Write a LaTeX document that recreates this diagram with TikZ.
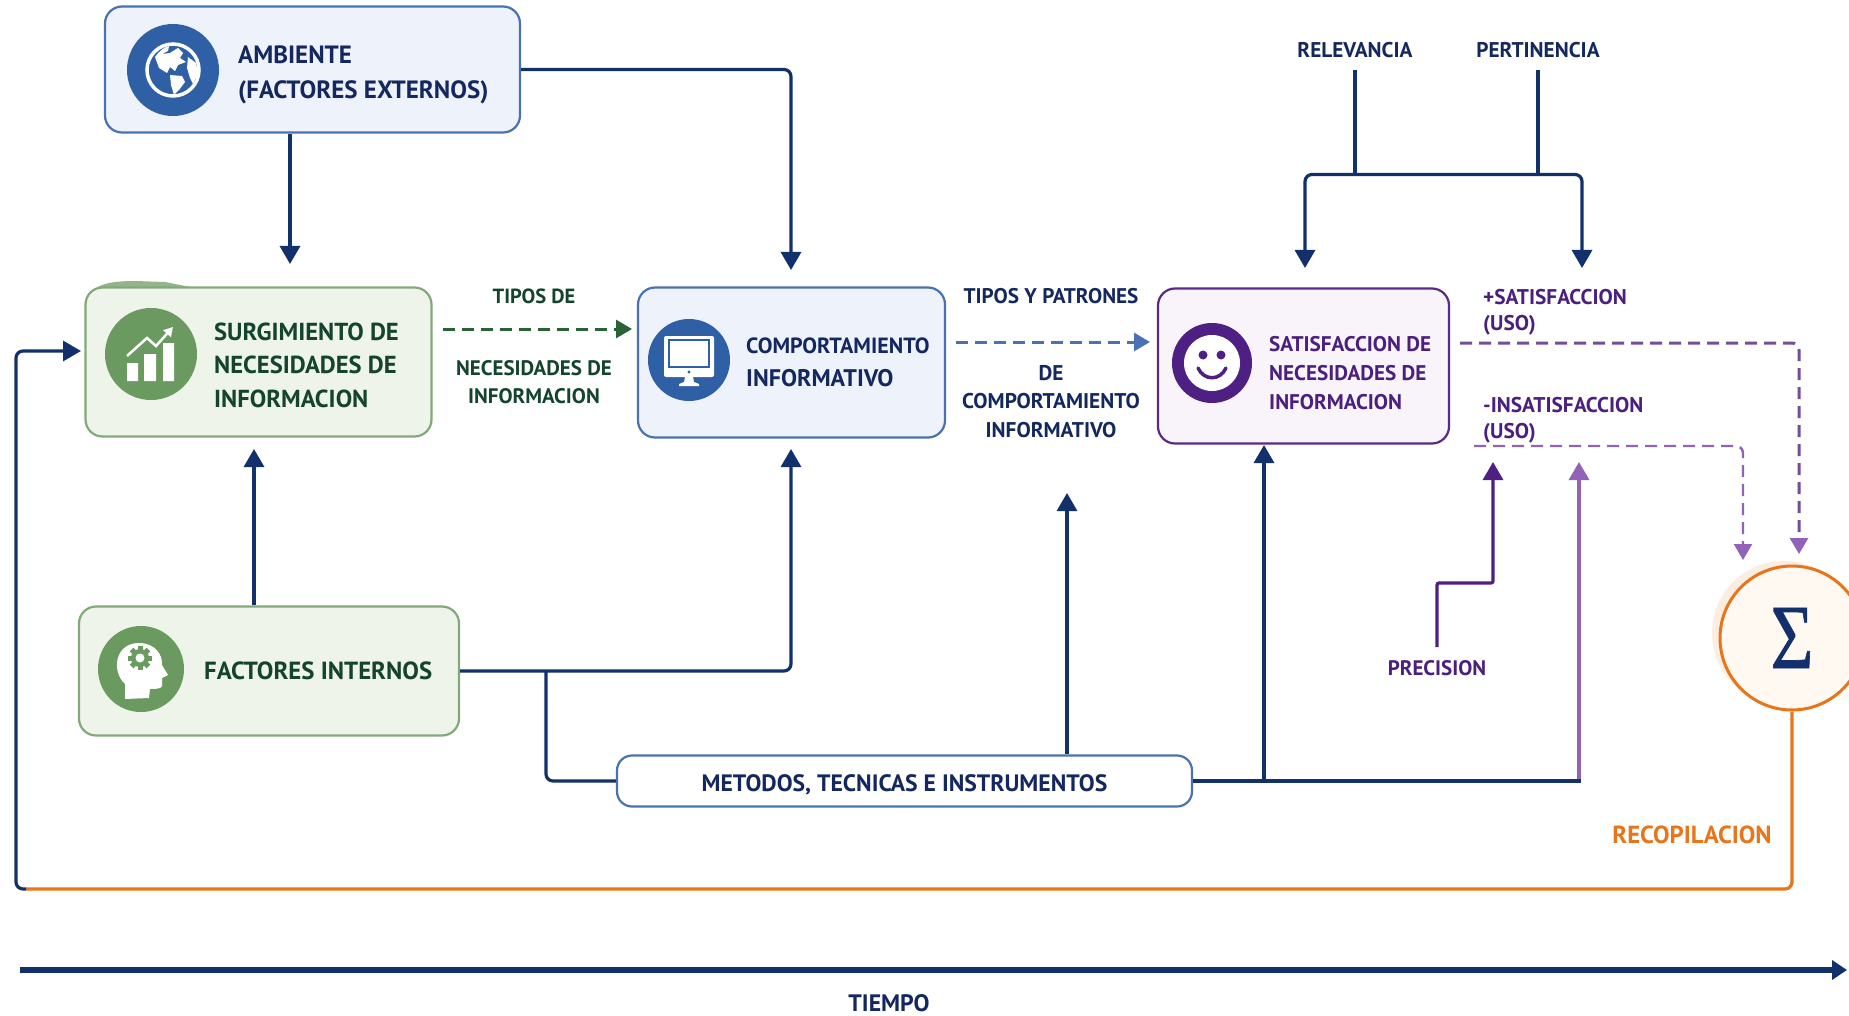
\documentclass[tikz,border=0pt]{standalone}
\usepackage{fontspec}
\setmainfont{PT Sans}
\newfontfamily\sigmafont[FakeBold=0.8]{Liberation Serif}
\usetikzlibrary{arrows.meta,calc}
\definecolor{navy}{HTML}{12306B}
\definecolor{txtnavy}{HTML}{14285F}
\definecolor{bluebd}{HTML}{4A72B0}
\definecolor{bluefl}{HTML}{EEF2FA}
\definecolor{blueic}{HTML}{2F5FA5}
\definecolor{greenbd}{HTML}{83A97A}
\definecolor{greenfl}{HTML}{EFF4EA}
\definecolor{greenic}{HTML}{6A9A5F}
\definecolor{greentx}{HTML}{14432E}
\definecolor{greenda}{HTML}{2A6238}
\definecolor{purpbd}{HTML}{5B2A86}
\definecolor{purpfl}{HTML}{F8F4FA}
\definecolor{purpic}{HTML}{4E2083}
\definecolor{purptx}{HTML}{4B1F7E}
\definecolor{purpli}{HTML}{9162B8}
\definecolor{orangel}{HTML}{E8751A}
\tikzset{
  x=1pt,y=-1pt,
  boxb/.style={draw,line width=2.2pt,rounded corners=17pt,inner sep=0pt},
  bluebox/.style={boxb,draw=bluebd,fill=bluefl},
  greenbox/.style={boxb,draw=greenbd,fill=greenfl},
  purpbox/.style={boxb,draw=purpbd,fill=purpfl},
  lab/.style={font=\bfseries\fontsize{#1}{#1}\selectfont,inner sep=0pt},
  mlab/.style 2 args={font=\bfseries\fontsize{#1}{#2}\selectfont,inner sep=0pt,align=left,anchor=west},
  clab/.style 2 args={font=\bfseries\fontsize{#1}{#2}\selectfont,inner sep=0pt,align=center},
  conn/.style={line width=3.2pt,rounded corners=7pt,-{Triangle[length=18pt,width=20pt]}},
  plain/.style={line width=3.2pt,rounded corners=7pt},
  nav/.style={draw=navy},
  dash1/.style={line width=3pt,dash pattern=on 12pt off 7pt,rounded corners=7pt,-{Triangle[length=16pt,width=18pt]}},
}
\begin{document}
\begin{tikzpicture}
\path[use as bounding box,clip] (0,0) rectangle (1849,1016);
\fill[white] (0,0) rectangle (1849,1016);

% ---- free end points
\coordinate (tSurgTop) at (290,264);
\coordinate (tCompTop) at (791,270);
\coordinate (tSurgBot) at (254,449);
\coordinate (tCompBot) at (791,449);
\coordinate (bendA) at (546,780);
\coordinate (tMid) at (1067,493);
\coordinate (tSatBot) at (1264,445);
\coordinate (tUseLi) at (1579,462);
\coordinate (tPrec) at (1493,462);
\coordinate (relTop) at (1355,70);
\coordinate (perTop) at (1538,70);
\coordinate (tSatL) at (1305,268);
\coordinate (tSatR) at (1582,268);
\coordinate (busY) at (1355,174.5);
\coordinate (dashA) at (1460,343);
\coordinate (dashAe) at (1799,554);
\coordinate (dashB) at (1474,446);
\coordinate (dashBe) at (1743,560);
\coordinate (gs) at (443,329);
\coordinate (ge) at (632,329);
\coordinate (bs) at (956,342);
\coordinate (be) at (1150,342);
\coordinate (fbTurn) at (26,889);
\coordinate (precS) at (1437,647);
\coordinate (precK) at (1437,583);
\coordinate (timeS) at (20,970);
\coordinate (timeE) at (1847,970);

% ---- boxes
\fill[greenic!70!greenfl] (88,300) .. controls (92,284) and (110,281) .. (135,281) -- (165,282) -- (195,288) -- (88,300) -- cycle;
\node[bluebox,minimum width=415pt,minimum height=126pt] (amb) at (312.5,69.5) {};
\node[greenbox,minimum width=346pt,minimum height=149pt] (surg) at (258.5,362) {};
\node[bluebox,minimum width=307pt,minimum height=150pt] (comp) at (791.5,362.5) {};
\node[purpbox,minimum width=291pt,minimum height=155pt] (sat) at (1303.5,366) {};
\node[greenbox,minimum width=380pt,minimum height=129pt] (fint) at (269,671) {};
\node[draw=bluebd,fill=white,line width=2.2pt,rounded corners=15pt,minimum width=575pt,minimum height=51pt,inner sep=0pt] (met) at (904.5,781) {};
\fill[black!12!orange!12!white] (1784,633) circle[radius=72pt];
\node[circle,draw=orangel,fill=orange!5!white,line width=3pt,minimum size=144pt,inner sep=0pt] (sum) at (1792,638) {};

% ---- text in boxes
\node[mlab={25}{34.5},text=txtnavy] (tamb) at (238,75) {AMBIENTE\\(FACTORES EXTERNOS)};
\node[mlab={24.6}{33.5},text=greentx] (tsurg) at (214,365) {SURGIMIENTO DE\\NECESIDADES DE\\INFORMACION};
\node[lab={22},anchor=west,text=txtnavy] (tcompa) at (746,346) {COMPORTAMIENTO};
\node[lab={24},anchor=west,text=txtnavy] (tcompb) at (746,378) {INFORMATIVO};
\node[mlab={21.2}{29},text=purptx] (tsat) at (1269,373) {SATISFACCION DE\\NECESIDADES DE\\INFORMACION};
\node[lab={24.8},anchor=west,text=greentx] (tfint) at (204,671) {FACTORES INTERNOS};
\node[lab={23.7},text=txtnavy] (tmet) at ($(met.center)+(0,4)$) {METODOS, TECNICAS E INSTRUMENTOS};
\node[text=navy,inner sep=0pt] (sig) at (1792,638) {\scalebox{0.8}[1]{\sigmafont\fontsize{92}{92}\selectfont Σ}};

% ---- free labels
\node[clab={20.5}{20.5},text=greentx] (l1) at (534,296) {TIPOS DE};
\node[clab={21}{28.5},text=greentx] (l2) at (534,382) {NECESIDADES DE\\INFORMACION};
\node[clab={21.2}{21.2},text=txtnavy] (l3) at (1051,296) {TIPOS Y PATRONES};
\node[clab={21.3}{28.5},text=txtnavy] (l4) at (1051,401.5) {DE\\COMPORTAMIENTO\\INFORMATIVO};
\node[mlab={21.3}{25.5},text=purptx] (l5) at (1483,312) {+SATISFACCION\\(USO)};
\node[mlab={21.3}{25.5},text=purptx] (l6) at (1483,420) {-INSATISFACCION\\(USO)};
\node[lab={21.3},text=txtnavy] (rel) at (1355,50) {RELEVANCIA};
\node[lab={21.3},text=txtnavy] (per) at (1538,50) {PERTINENCIA};
\node[lab={21},text=purptx] (prec) at (1437,668) {PRECISION};
\node[lab={24.7},text=orangel] (rec) at (1692,835) {RECOPILACION};
\node[lab={23.8},text=txtnavy] (tiem) at (889,1003) {TIEMPO};

% ---- connectors
\draw[conn,nav] (tSurgTop |- amb.south) -- (tSurgTop);
\draw[conn,nav] (amb.east) -| (tCompTop);
\draw[conn,nav] (tSurgBot |- fint.north) -- (tSurgBot);
\draw[conn,nav] (fint.east) -| (tCompBot);
\draw[plain,nav] (bendA |- fint.east) |- (met.west);
\draw[conn,nav] (tMid |- met.north) -- (tMid);
\draw[conn,nav] (tSatBot |- met.east) -- (tSatBot);
\draw[conn,draw=purpli,rounded corners=3pt] (met.east -| tUseLi) -- (tUseLi);
\draw[plain,nav] (met.east) -- ($(met.east -| tUseLi)+(1.6,0)$);
\draw[plain,nav] (relTop) -- (relTop |- busY);
\draw[plain,nav] (perTop) -- (perTop |- busY);
\draw[conn,nav] (relTop |- busY) -| (tSatL);
\draw[conn,nav] (relTop |- busY) -| (tSatR);
\draw[conn,draw=purpic,rounded corners=2pt] (precS) -- (precK) -| (tPrec);
\draw[dash1,draw=greenda] (gs) -- (ge);
\draw[dash1,draw=bluebd] (bs) -- (be);
\draw[dash1,draw=purpic!80!white,-{Triangle[length=16pt,width=18pt,color=purpli]}] (dashA) -| (dashAe);
\draw[dash1,line width=2.4pt,draw=purpli] (dashB) -| (dashBe);
\draw[plain,draw=orangel] (sum.south) |- (fbTurn);
\draw[conn,draw=navy] (fbTurn) -- (16,889) -- (16,351) -- (81,351);
\draw[line width=6pt,draw=navy,-{Triangle[length=15pt,width=19pt]}] (timeS) -- (timeE);

% ---- icons
\node[circle,fill=blueic,minimum size=92pt,inner sep=0pt] (iamb) at (173,70) {};
\begin{scope}[shift={(iamb.center)}]
 \draw[white,line width=3.5pt] (0,0) circle[radius=26pt];
 \fill[white] (-18,-13) .. controls (-13,-20) and (-8,-23) .. (-4,-24) -- (-5,-19) -- (-11,-16) -- (-3,-17) -- (5,-22) -- (10,-17) -- (7,-12) -- (13,-8) -- (5,-5) -- (2,1) -- (-3,-3) -- (-6,3) -- (-14,-2) -- cycle;
 \fill[white] (-3,5) -- (9,6) -- (12,12) -- (6,20) -- (1,25) -- (-2,15) -- cycle;
 \fill[white] (15,-13) -- (23,-7) -- (25,3) -- (20,14) -- (17,8) -- (14,-2) -- cycle;
\end{scope}
\node[circle,fill=greenic,minimum size=92pt,inner sep=0pt] (isurg) at (151,354) {};
\begin{scope}[shift={(isurg.center)}]
 \fill[white] (-24,9) rectangle (-13,27) (-7,0) rectangle (5,27) (12,-11) rectangle (23,27);
 \draw[white,line width=2.5pt,-{Triangle[length=9pt,width=10pt]}] (-24,2) -- (-4,-16) -- (5,-8) -- (22,-27);
\end{scope}
\node[circle,fill=blueic,minimum size=82pt,inner sep=0pt] (icomp) at (689,360) {};
\begin{scope}[shift={(icomp.center)}]
 \fill[white,rounded corners=2pt] (-25,-24) rectangle (25,17);
 \fill[white] (-4,17) -- (4,17) -- (5,22) -- (10,24) -- (10,26) -- (-10,26) -- (-10,24) -- (-5,22) -- cycle;
 \draw[blueic,line width=2pt] (-20,-20) rectangle (20,7);
 \fill[blueic] (0,12) circle[radius=1.6pt];
\end{scope}
\node[circle,fill=purpic,minimum size=80pt,inner sep=0pt] (isat) at (1212,363) {};
\begin{scope}[shift={(isat.center)}]
 \fill[white] (0,0) circle[radius=28pt];
 \fill[purpic] (-9,-8) circle[radius=4.5pt] (9,-8) circle[radius=4.5pt];
 \draw[purpic,line width=3.5pt,line cap=round] (-14,5) .. controls (-8,18) and (8,18) .. (14,5);
\end{scope}
\node[circle,fill=greenic,minimum size=86pt,inner sep=0pt] (ifint) at (141,669) {};
\begin{scope}[shift={(ifint.center)}]
 \fill[white] (-16,30) -- (-16,15) .. controls (-30,2) and (-26,-26) .. (-2,-26)
   .. controls (14,-26) and (22,-14) .. (21,-4) -- (27,6) -- (21,9) -- (21,17) .. controls (20,20) and (14,20) .. (9,20) -- (8,29) -- cycle;
 \foreach \a in {0,45,...,315}{
   \fill[greenic,rotate around={\a:(-1,-11)}] (-3.5,-23) rectangle (1.5,-18);
 }
 \fill[greenic] (-1,-11) circle[radius=9pt];
 \fill[white] (-1,-11) circle[radius=4.5pt];
\end{scope}
\end{tikzpicture}
\end{document}
